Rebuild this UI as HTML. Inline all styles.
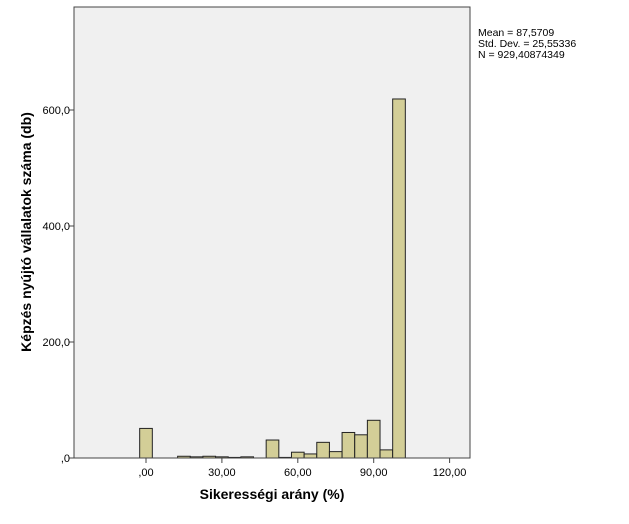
<!DOCTYPE html>
<html><head><meta charset="utf-8"><style>
body{margin:0;background:#fff;font-family:"Liberation Sans",sans-serif}
svg{display:block}
</style></head><body>
<svg width="629" height="524">
<rect x="74" y="7" width="396" height="451" fill="#f0f0f0" stroke="#444" stroke-width="1"/>
<g id="bars"></g>
<g id="axes"></g>
<text x="478" y="36" font-size="10.5">Mean = 87,5709</text>
<text x="478" y="47" font-size="10.5">Std. Dev. = 25,55336</text>
<text x="478" y="58" font-size="10.5">N = 929,40874349</text>
<text x="272" y="499" font-size="14" font-weight="bold" text-anchor="middle">Sikerességi arány (%)</text>
<text transform="translate(31,232) rotate(-90)" font-size="14" font-weight="bold" text-anchor="middle">Képzés nyújtó vállalatok száma (db)</text>
</svg>
<script>
const binCenters=[0,15,20,25,30,35,40,50,55,60,65,70,75,80,85,90,95,100];
const counts=[51,3,2,3,2,1,2,31,1,10,7,27,11,44,40,65,14,619];
const xTicks=[0,30,60,90,120];
const xTickLabels=[",00","30,00","60,00","90,00","120,00"];
const yTicks=[0,200,400,600];
const yTickLabels=[",0","200,0","400,0","600,0"];
const binWidth=5;
const NS="http://www.w3.org/2000/svg";
function xs(v){return 146+v*(75.9/30);}
function ys(v){return 458-v*0.58;}
const bars=document.getElementById('bars');
binCenters.forEach((c,i)=>{
  const r=document.createElementNS(NS,'rect');
  const x0=xs(c-binWidth/2),x1=xs(c+binWidth/2);
  r.setAttribute('x',x0);r.setAttribute('width',x1-x0);
  r.setAttribute('y',ys(counts[i]));r.setAttribute('height',458-ys(counts[i]));
  r.setAttribute('fill','#d3ce97');r.setAttribute('stroke','#222');r.setAttribute('stroke-width','1');
  
  
  bars.appendChild(r);
});
const axes=document.getElementById('axes');
function line(x1,y1,x2,y2){const l=document.createElementNS(NS,'line');l.setAttribute('x1',x1);l.setAttribute('y1',y1);l.setAttribute('x2',x2);l.setAttribute('y2',y2);l.setAttribute('stroke','#444');return l;}
const xa=line(74,458,470,458);


axes.appendChild(xa);
xTicks.forEach((t,i)=>{
  const l=line(xs(t),458,xs(t),463);
  
  
  axes.appendChild(l);
  const tx=document.createElementNS(NS,'text');
  tx.setAttribute('x',xs(t));tx.setAttribute('y',476);tx.setAttribute('font-size','11');tx.setAttribute('text-anchor','middle');
  tx.textContent=xTickLabels[i];
  
  
  axes.appendChild(tx);
});
yTicks.forEach((t,i)=>{
  const l=line(69,ys(t),74,ys(t));
  
  
  axes.appendChild(l);
  const tx=document.createElementNS(NS,'text');
  tx.setAttribute('x',70);tx.setAttribute('y',ys(t)+4);tx.setAttribute('font-size','11');tx.setAttribute('text-anchor','end');
  tx.textContent=yTickLabels[i];
  
  
  axes.appendChild(tx);
});
</script>
</body></html>
